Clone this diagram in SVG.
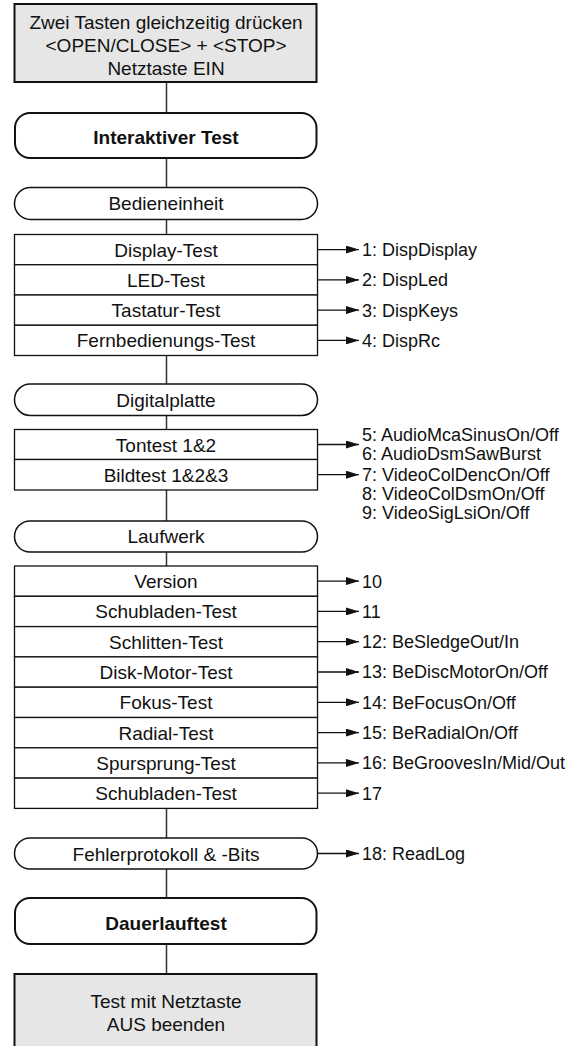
<svg xmlns="http://www.w3.org/2000/svg" width="573" height="1046" viewBox="0 0 573 1046">
<style>
text{font-family:"Liberation Sans",Arial,sans-serif;fill:#111}
.n{font-size:19px;text-anchor:middle}
.b{font-size:19px;text-anchor:middle;font-weight:bold}
.l{font-size:18px}
.grey{fill:#e6e6e6;stroke:#111;stroke-width:2}
.main{fill:#fff;stroke:#111;stroke-width:2}
.sub{fill:#fff;stroke:#111;stroke-width:1.5}
.row{fill:#fff;stroke:#111;stroke-width:1.3}
.c{stroke:#333;stroke-width:1.5;fill:none}
.a{stroke:#111;stroke-width:1.3;fill:none;marker-end:url(#ah)}
</style>
<defs>
<marker id="ah" viewBox="0 0 13 8" refX="13" refY="4" markerWidth="13" markerHeight="8" markerUnits="userSpaceOnUse" orient="auto"><path d="M0,0 L13,4 L0,8 z" fill="#111"/></marker>
</defs>
<rect width="573" height="1046" fill="#fff"/>
<g id="connectors">
<line class="c" x1="166.5" y1="82" x2="166.5" y2="113"/>
<line class="c" x1="166.5" y1="158" x2="166.5" y2="187.5"/>
<line class="c" x1="166.5" y1="219.5" x2="166.5" y2="234.5"/>
<line class="c" x1="166.5" y1="355.5" x2="166.5" y2="384"/>
<line class="c" x1="166.5" y1="415.5" x2="166.5" y2="429.5"/>
<line class="c" x1="166.5" y1="490" x2="166.5" y2="521"/>
<line class="c" x1="166.5" y1="552" x2="166.5" y2="566"/>
<line class="c" x1="166.5" y1="808.4" x2="166.5" y2="838"/>
<line class="c" x1="166.5" y1="869" x2="166.5" y2="898"/>
<line class="c" x1="166.5" y1="944" x2="166.5" y2="974"/>
<line class="a" x1="317.5" y1="249.6" x2="359" y2="249.6"/>
<line class="a" x1="317.5" y1="279.9" x2="359" y2="279.9"/>
<line class="a" x1="317.5" y1="310.1" x2="359" y2="310.1"/>
<line class="a" x1="317.5" y1="340.4" x2="359" y2="340.4"/>
<line class="a" x1="317.5" y1="444.5" x2="359" y2="444.5"/>
<line class="a" x1="317.5" y1="474.7" x2="359" y2="474.7"/>
<line class="a" x1="317.5" y1="581.1" x2="359" y2="581.1"/>
<line class="a" x1="317.5" y1="611.4" x2="359" y2="611.4"/>
<line class="a" x1="317.5" y1="641.7" x2="359" y2="641.7"/>
<line class="a" x1="317.5" y1="672" x2="359" y2="672"/>
<line class="a" x1="317.5" y1="702.3" x2="359" y2="702.3"/>
<line class="a" x1="317.5" y1="732.6" x2="359" y2="732.6"/>
<line class="a" x1="317.5" y1="762.9" x2="359" y2="762.9"/>
<line class="a" x1="317.5" y1="793.2" x2="359" y2="793.2"/>
<line class="a" x1="318" y1="853.5" x2="359" y2="853.5"/>
</g>
<g id="start">
<rect class="grey" x="14.5" y="4" width="302" height="78"/>
<text class="n" x="166" y="29">Zwei Tasten gleichzeitig drücken</text>
<text class="n" x="166" y="52">&lt;OPEN/CLOSE&gt; + &lt;STOP&gt;</text>
<text class="n" x="166" y="75">Netztaste EIN</text>
</g>
<g id="interaktiv">
<rect class="main" x="15" y="113" width="301.5" height="45" rx="15"/>
<text class="b" x="166" y="143.5">Interaktiver Test</text>
</g>
<g id="bedieneinheit">
<rect class="sub" x="14.5" y="187.5" width="303" height="32" rx="16"/>
<text class="n" x="166" y="210.3">Bedieneinheit</text>
</g>
<g id="bedien-tests">
<rect class="row" x="14.5" y="234.5" width="303" height="30.25"/>
<rect class="row" x="14.5" y="264.75" width="303" height="30.25"/>
<rect class="row" x="14.5" y="295" width="303" height="30.25"/>
<rect class="row" x="14.5" y="325.25" width="303" height="30.25"/>
<text class="n" x="166" y="256.5">Display-Test</text>
<text class="n" x="166" y="286.8">LED-Test</text>
<text class="n" x="166" y="317">Tastatur-Test</text>
<text class="n" x="166" y="347.3">Fernbedienungs-Test</text>
</g>
<g id="digitalplatte">
<rect class="sub" x="14.5" y="384" width="303" height="31.5" rx="15.75"/>
<text class="n" x="166" y="406.5">Digitalplatte</text>
</g>
<g id="digital-tests">
<rect class="row" x="14.5" y="429.5" width="303" height="30"/>
<rect class="row" x="14.5" y="459.5" width="303" height="30.5"/>
<text class="n" x="166" y="451.5">Tontest 1&amp;2</text>
<text class="n" x="166" y="481.7">Bildtest 1&amp;2&amp;3</text>
</g>
<g id="laufwerk">
<rect class="sub" x="14.5" y="521" width="303" height="31" rx="15.5"/>
<text class="n" x="166" y="543.3">Laufwerk</text>
</g>
<g id="laufwerk-tests">
<rect class="row" x="14.5" y="566" width="303" height="30.3"/>
<rect class="row" x="14.5" y="596.3" width="303" height="30.3"/>
<rect class="row" x="14.5" y="626.6" width="303" height="30.3"/>
<rect class="row" x="14.5" y="656.9" width="303" height="30.3"/>
<rect class="row" x="14.5" y="687.2" width="303" height="30.3"/>
<rect class="row" x="14.5" y="717.5" width="303" height="30.3"/>
<rect class="row" x="14.5" y="747.8" width="303" height="30.3"/>
<rect class="row" x="14.5" y="778.1" width="303" height="30.3"/>
<text class="n" x="166" y="588">Version</text>
<text class="n" x="166" y="618.3">Schubladen-Test</text>
<text class="n" x="166" y="648.6">Schlitten-Test</text>
<text class="n" x="166" y="678.9">Disk-Motor-Test</text>
<text class="n" x="166" y="709.2">Fokus-Test</text>
<text class="n" x="166" y="739.5">Radial-Test</text>
<text class="n" x="166" y="769.8">Spursprung-Test</text>
<text class="n" x="166" y="800.1">Schubladen-Test</text>
</g>
<g id="fehlerprotokoll">
<rect class="sub" x="14.5" y="838" width="303" height="31" rx="15.5"/>
<text class="n" x="166" y="860.5">Fehlerprotokoll &amp; -Bits</text>
</g>
<g id="dauerlauf">
<rect class="main" x="15" y="898" width="301.5" height="46" rx="15"/>
<text class="b" x="166" y="929.5">Dauerlauftest</text>
</g>
<g id="ende">
<rect class="grey" x="14.5" y="974" width="302" height="80"/>
<text class="n" x="166" y="1008">Test mit Netztaste</text>
<text class="n" x="166" y="1031">AUS beenden</text>
</g>
<g id="labels">
<text class="l" x="362" y="256">1: DispDisplay</text>
<text class="l" x="362" y="286.3">2: DispLed</text>
<text class="l" x="362" y="316.5">3: DispKeys</text>
<text class="l" x="362" y="346.8">4: DispRc</text>
<text class="l" x="362" y="441.3">5: AudioMcaSinusOn/Off</text>
<text class="l" x="362" y="460.3">6: AudioDsmSawBurst</text>
<text class="l" x="362" y="481">7: VideoColDencOn/Off</text>
<text class="l" x="362" y="500">8: VideoColDsmOn/Off</text>
<text class="l" x="362" y="519">9: VideoSigLsiOn/Off</text>
<text class="l" x="362" y="587.5">10</text>
<text class="l" x="362" y="617.8">11</text>
<text class="l" x="362" y="648.1">12: BeSledgeOut/In</text>
<text class="l" x="362" y="678.4">13: BeDiscMotorOn/Off</text>
<text class="l" x="362" y="708.7">14: BeFocusOn/Off</text>
<text class="l" x="362" y="739">15: BeRadialOn/Off</text>
<text class="l" x="362" y="769.3">16: BeGroovesIn/Mid/Out</text>
<text class="l" x="362" y="799.6">17</text>
<text class="l" x="362" y="860">18: ReadLog</text>
</g>
</svg>
